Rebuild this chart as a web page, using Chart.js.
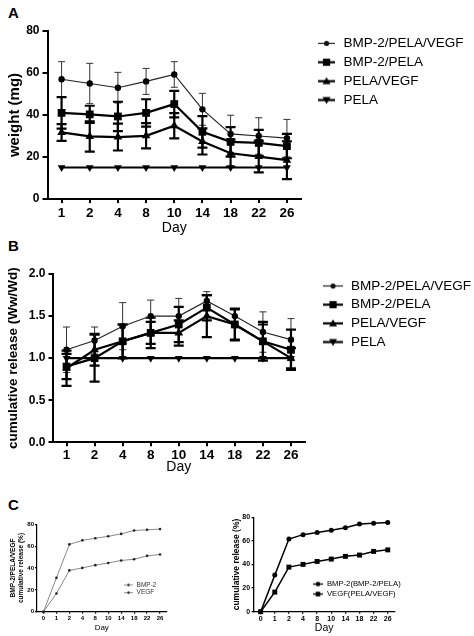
<!DOCTYPE html>
<html><head><meta charset="utf-8">
<script src="https://cdn.jsdelivr.net/npm/chart.js@4.4.1/dist/chart.umd.min.js"></script>
<style>
html,body{margin:0;padding:0;background:#fff;width:474px;height:636px;overflow:hidden;font-family:"Liberation Sans",Arial,sans-serif}
.pl{position:absolute;font-weight:bold;font-size:15px;line-height:15px;color:#000}
canvas{position:absolute}
</style></head><body>
<div class="pl" style="left:8px;top:5px">A</div>
<div class="pl" style="left:8px;top:238px">B</div>
<div class="pl" style="left:8px;top:497px">C</div>
<canvas id="cA" width="474" height="220" style="left:0;top:20px;width:474px;height:220px"></canvas>
<canvas id="cB" width="474" height="218" style="left:0;top:262px;width:474px;height:218px"></canvas>
<canvas id="cC1" width="232" height="131" style="left:0;top:505px;width:232px;height:131px"></canvas>
<canvas id="cC2" width="242" height="131" style="left:232px;top:505px;width:242px;height:131px"></canvas>
<script>
// ---------------- DATA ----------------
const daysAB = ['1','2','4','8','10','14','18','22','26'];
const seriesNames = ['BMP-2/PELA/VEGF','BMP-2/PELA','PELA/VEGF','PELA'];

const weightBPV   = [57, 55, 53, 56, 59.3, 42.7, 31, 30, 29];
const weightBPVsd = [8.4, 9.6, 7.3, 6.2, 6.1, 7.6, 8.9, 8.7, 8.9];
const weightBP    = [41, 40.3, 39.3, 41, 45.2, 32, 27.2, 26.7, 25.2];
const weightBPsd  = [7.5, 4.1, 7, 6.5, 6.3, 7.5, 7, 6.2, 5.8];
const weightPV    = [31.7, 29.8, 29.5, 30.1, 34.9, 27.4, 21.8, 20.2, 18.5];
const weightPVsd  = [4, 7.2, 6.4, 6, 6, 6.2, 6.5, 7.5, 9];
const weightP     = [15, 15, 15, 15, 15, 15, 15, 15, 15];
const weightTicks = [0, 20, 40, 60, 80];

const relBPV   = [1.1, 1.21, 1.38, 1.5, 1.5, 1.68, 1.5, 1.31, 1.22];
const relBPVsd = [0.27, 0.16, 0.28, 0.19, 0.21, 0.11, 0.09, 0.24, 0.25];
const relBP    = [0.9, 1.0, 1.2, 1.3, 1.4, 1.6, 1.4, 1.2, 1.1];
const relBPsd  = [0.15, 0.28, 0.2, 0.13, 0.21, 0.15, 0.19, 0.23, 0.24];
const relPV    = [0.88, 1.1, 1.2, 1.3, 1.3, 1.5, 1.4, 1.2, 1.0];
const relPVsd  = [0.21, 0.19, 0.2, 0.18, 0.15, 0.25, 0.18, 0.2, 0.12];
const relP     = [1, 1, 1, 1, 1, 1, 1, 1, 1];
const relTicks = [0, 0.5, 1.0, 1.5, 2.0];

const daysC    = ['0','1','2','4','8','10','14','18','22','26'];
const cumBMP2  = [0, 31, 61.6, 65.3, 67.2, 69, 71.2, 74.3, 75, 75.6];
const cumVEGF  = [0, 16.6, 37.8, 40.1, 42.6, 44.6, 46.9, 48, 51.1, 52.4];
const cumTicks = [0, 20, 40, 60, 80];
const legendC1 = ['BMP-2', 'VEGF'];
const legendC2 = ['BMP-2(BMP-2/PELA)', 'VEGF(PELA/VEGF)'];
const yTitleC1 = ['BMP-2/PELA/VEGF', 'cumulative release (%)'];

// ---------------- HELPERS ----------------
const FF = '"Liberation Sans", Arial, sans-serif';

const errorBars = {
  id: 'errorBars',
  beforeDatasetsDraw(chart) {
    const ctx = chart.ctx, ys = chart.scales.y;
    chart.data.datasets.forEach((ds, di) => {
      if (!ds.errors) return;
      const meta = chart.getDatasetMeta(di);
      ctx.save();
      ctx.strokeStyle = ds.errorColor || ds.borderColor;
      ctx.lineWidth = ds.errorLineWidth;
      meta.data.forEach((pt, i) => {
        const v = ds.data[i], e = ds.errors[i];
        if (!e) return;
        const x = pt.x, y1 = ys.getPixelForValue(v + e), y2 = ys.getPixelForValue(v - e);
        const c = ds.capHalf;
        ctx.beginPath();
        ctx.moveTo(x, y1); ctx.lineTo(x, y2);
        ctx.moveTo(x - c, y1); ctx.lineTo(x + c, y1);
        ctx.moveTo(x - c, y2); ctx.lineTo(x + c, y2);
        ctx.stroke();
      });
      ctx.restore();
    });
  }
};

const legendPlace = {
  id: 'legendPlace',
  afterLayout(chart, args, o) {
    const lg = chart.legend;
    if (!lg || o.left === undefined) return;
    const w = lg.width, h = lg.height;
    lg.left = o.left; lg.top = o.top; lg.right = o.left + w; lg.bottom = o.top + Math.max(h, 200);
  }
};

function makeIcon(w, h, marker, lineW, r, color, lineColor) {
  const c = document.createElement('canvas');
  c.width = w; c.height = h;
  const g = c.getContext('2d');
  const cy = h / 2, cx = w / 2;
  g.strokeStyle = lineColor || color; g.fillStyle = color; g.lineWidth = lineW;
  g.beginPath(); g.moveTo(0, cy); g.lineTo(w, cy); g.stroke();
  g.beginPath();
  if (marker === 'circle') g.arc(cx, cy, r, 0, Math.PI * 2);
  else if (marker === 'rect') g.rect(cx - r, cy - r, 2 * r, 2 * r);
  else if (marker === 'tri') { g.moveTo(cx, cy - r); g.lineTo(cx + r, cy + r * 0.75); g.lineTo(cx - r, cy + r * 0.75); }
  else if (marker === 'itri') { g.moveTo(cx, cy + r); g.lineTo(cx + r, cy - r * 0.75); g.lineTo(cx - r, cy - r * 0.75); }
  g.closePath(); g.fill();
  return c;
}

function legendCfg(icons, size, padding, boxW, left, top, color) {
  return {
    display: true, position: 'chartArea', align: 'start',
    labels: {
      usePointStyle: true, pointStyleWidth: boxW, padding: padding, color: color || '#000',
      font: { family: FF, size: size },
      generateLabels: (chart) => chart.data.datasets.map((ds, i) => ({
        text: ds.label, pointStyle: icons[i], rotation: 0, fillStyle: '#000',
        strokeStyle: '#000', lineWidth: 0, hidden: false, datasetIndex: i, fontColor: color || '#000'
      }))
    },
    _place: { left, top }
  };
}

function yAxis(o) {
  return {
    type: 'linear', position: 'left',
    min: o.ticks[0], max: o.ticks[o.ticks.length - 1],
    ticks: { stepSize: o.ticks[1] - o.ticks[0], color: '#000', padding: o.tpad,
      font: { family: FF, size: o.tsize, weight: 'bold' },
      callback: o.fmt || ((v) => v) },
    grid: { display: true, drawOnChartArea: false, drawTicks: true, tickLength: o.tl, color: '#000', lineWidth: o.lw, tickWidth: o.lw, tickColor: '#000' },
    border: { display: true, color: '#000', width: o.lw },
    title: { display: true, text: o.title, color: '#000',
      font: { family: FF, size: o.titleSize, weight: 'bold', lineHeight: o.titleLH || 1.2 },
      padding: { top: o.titlePad, bottom: 0 } },
    afterFit(s) { s.width = o.width; }
  };
}

function xAxis(o) {
  return {
    type: 'category', position: 'bottom', offset: true,
    ticks: { color: '#000', padding: o.tpad, maxRotation: 0, autoSkip: false,
      font: { family: FF, size: o.tsize, weight: 'bold' } },
    grid: { display: true, drawOnChartArea: false, drawTicks: true, tickLength: o.tl, color: '#000', lineWidth: o.lw, tickWidth: o.lw, tickColor: '#000' },
    border: { display: true, color: '#000', width: o.lw },
    title: { display: true, text: 'Day', color: '#000',
      font: { family: FF, size: o.titleSize, weight: 'normal', lineHeight: 1.2 },
      padding: { top: 0, bottom: o.titlePad } },
    afterFit(s) { s.height = o.height; }
  };
}

function makeChart(id, cfg) {
  const lg = cfg.legend;
  return new Chart(document.getElementById(id), {
    type: 'line',
    data: { labels: cfg.labels, datasets: cfg.datasets },
    plugins: [errorBars, legendPlace],
    options: {
      responsive: false, animation: false, devicePixelRatio: window.devicePixelRatio || 1,
      layout: { padding: cfg.padding },
      plugins: {
        legend: lg,
        legendPlace: lg._place,
        tooltip: { enabled: false }
      },
      scales: { x: cfg.x, y: cfg.y }
    }
  });
}

function ds(label, data, errs, style, o) {
  return Object.assign({
    label, data, errors: errs, pointStyle: style,
    borderColor: '#000', backgroundColor: '#000', pointBackgroundColor: '#000', pointBorderColor: '#000',
    pointBorderWidth: 0, tension: 0, fill: false, clip: false
  }, o);
}

// ---------------- PANEL A ----------------
const iconsA = [
  makeIcon(17, 11, 'circle', 1.2, 2.6, '#111', '#222'),
  makeIcon(17, 11, 'rect', 2.2, 3.6, '#000'),
  makeIcon(17, 11, 'tri', 2.2, 4, '#000'),
  makeIcon(17, 11, 'itri', 2.2, 4, '#000')
];
makeChart('cA', {
  labels: daysAB,
  padding: { top: 11, right: 173, bottom: 0, left: 0 },
  legend: legendCfg(iconsA, 13.5, 5.4, 20.25, 311, 11.2),
  datasets: [
    ds(seriesNames[0], weightBPV, weightBPVsd, 'circle', { borderWidth: 1.1, borderColor: '#222', errorColor: '#333', pointRadius: 3.2, errorLineWidth: 1, capHalf: 3.5 }),
    ds(seriesNames[1], weightBP, weightBPsd, 'rect', { borderWidth: 2.2, pointRadius: 5.5, errorLineWidth: 2.2, capHalf: 5 }),
    ds(seriesNames[2], weightPV, weightPVsd, 'triangle', { borderWidth: 2.2, pointRadius: 5, errorLineWidth: 2.2, capHalf: 5 }),
    ds(seriesNames[3], weightP, null, 'triangle', { borderWidth: 2.2, pointRadius: 4.5, rotation: 180 })
  ],
  y: yAxis({ ticks: weightTicks, tsize: 12, tpad: 3, tl: 5, lw: 2, title: 'weight (mg)', titleSize: 15, titlePad: 6, width: 47.5 }),
  x: xAxis({ tsize: 13.5, tpad: 2, tl: 4, lw: 2, titleSize: 14, titlePad: 3.6, height: 41 })
});

// ---------------- PANEL B ----------------
const iconsB = [
  makeIcon(20, 11, 'circle', 1.2, 2.6, '#111', '#222'),
  makeIcon(20, 11, 'rect', 2.2, 3.6, '#000'),
  makeIcon(20, 11, 'tri', 2.2, 4, '#000'),
  makeIcon(20, 11, 'itri', 2.2, 4, '#000')
];
makeChart('cB', {
  labels: daysAB,
  padding: { top: 12, right: 169, bottom: 0, left: 0 },
  legend: legendCfg(iconsB, 13.5, 5.2, 22.25, 316.7, 12),
  datasets: [
    ds(seriesNames[0], relBPV, relBPVsd, 'circle', { borderWidth: 1.1, borderColor: '#222', errorColor: '#333', pointRadius: 3.2, errorLineWidth: 1, capHalf: 3.5 }),
    ds(seriesNames[1], relBP, relBPsd, 'rect', { borderWidth: 2.2, pointRadius: 5.5, errorLineWidth: 2.2, capHalf: 5 }),
    ds(seriesNames[2], relPV, relPVsd, 'triangle', { borderWidth: 2.2, pointRadius: 5, errorLineWidth: 2.2, capHalf: 5 }),
    ds(seriesNames[3], relP, null, 'triangle', { borderWidth: 2.2, pointRadius: 4.5, rotation: 180 })
  ],
  y: yAxis({ ticks: relTicks, tsize: 12, tpad: 3, tl: 4, lw: 2, title: 'cumulative release (Ww/Wd)', titleSize: 13.5, titlePad: 5, width: 52.5, fmt: (v) => Number(v).toFixed(1) }),
  x: xAxis({ tsize: 13.5, tpad: 1, tl: 4, lw: 2, titleSize: 14, titlePad: 4.6, height: 37.7 })
});

// ---------------- PANEL C (left) ----------------
const iconsC1 = [
  makeIcon(9, 5, 'circle', 0.8, 1.2, '#222', '#777'),
  makeIcon(9, 5, 'circle', 0.8, 1.2, '#222', '#777')
];
makeChart('cC1', {
  labels: daysC,
  padding: { top: 19.3, right: 65.5, bottom: 0, left: 0 },
  legend: legendCfg(iconsC1, 6.5, 1.2, 9.75, 122.4, 75.5, '#333'),
  datasets: [
    ds(legendC1[0], cumBMP2, null, 'circle', { borderWidth: 1, borderColor: '#888', pointRadius: 1.3, pointBackgroundColor: '#222' }),
    ds(legendC1[1], cumVEGF, null, 'circle', { borderWidth: 1, borderColor: '#888', pointRadius: 1.3, pointBackgroundColor: '#222' })
  ],
  y: yAxis({ ticks: cumTicks, tsize: 6, tpad: 1, tl: 2, lw: 1.2, title: yTitleC1, titleSize: 6.5, titlePad: 9.1, width: 37 }),
  x: xAxis({ tsize: 6, tpad: 1, tl: 2, lw: 1.2, titleSize: 8, titlePad: 3.2, height: 24.3 })
});

// ---------------- PANEL C (right) ----------------
const iconsC2 = [
  makeIcon(10, 7, 'circle', 1.3, 2.3, '#000'),
  makeIcon(10, 7, 'rect', 1.3, 2.3, '#000')
];
makeChart('cC2', {
  labels: daysC,
  padding: { top: 12.3, right: 79.2, bottom: 0, left: 0 },
  legend: legendCfg(iconsC2, 7.7, 2.3, 10.15, 78.6, 72.9),
  datasets: [
    ds(legendC2[0], cumBMP2, null, 'circle', { borderWidth: 1.5, pointRadius: 2.5 }),
    ds(legendC2[1], cumVEGF, null, 'rect', { borderWidth: 1.5, pointRadius: 3.5 })
  ],
  y: yAxis({ ticks: cumTicks, tsize: 7, tpad: 1.5, tl: 2, lw: 1.3, title: 'cumulative release (%)', titleSize: 8.5, titleLH: 1, titlePad: 0, width: 21.6 }),
  x: xAxis({ tsize: 7, tpad: 1, tl: 2, lw: 1.3, titleSize: 10.5, titlePad: 2, height: 24.3 })
});
</script>
</body></html>
